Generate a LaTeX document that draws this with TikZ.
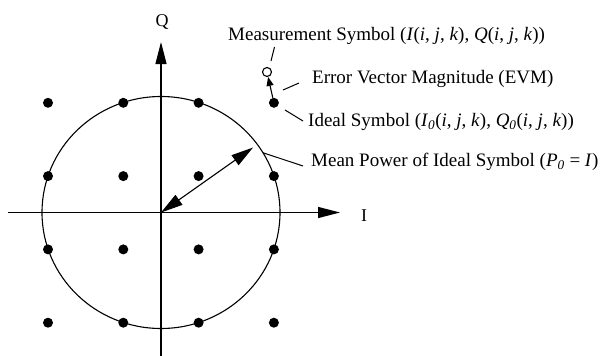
\documentclass[tikz,border=0pt]{standalone}
\usepackage{fontspec}
\setmainfont{Liberation Serif}
\usetikzlibrary{arrows.meta,calc}
\begin{document}
\begin{tikzpicture}[x=1pt,y=-1pt,
  dot/.style={circle,fill=black,inner sep=0pt,minimum size=10pt},
  axis/.style={line width=1.2pt,-{Triangle[length=22pt,width=11pt]}},
  lbl/.style={anchor=west,inner sep=0pt,font=\fontsize{19}{22}\selectfont},
  axlbl/.style={inner sep=0pt,font=\fontsize{18}{22}\selectfont},
  leader/.style={line width=1pt}]
\useasboundingbox (0,0) rectangle (606,356);
% axes
\coordinate (O) at (161,212.5);
\coordinate (Ibeg) at (8,212.5);
\coordinate (Iend) at (340,212.5);
\coordinate (Qbeg) at (161,356);
\coordinate (Qend) at (161,42);
\draw[axis] (Ibeg) -- (Iend);
\draw[axis] (Qbeg) -- (Qend);
\node[axlbl] (Ilab) at (364,216) {I};
\node[axlbl] (Qlab) at (162,22) {Q};
% circle
\draw[line width=1.1pt] (O) ellipse [x radius=119, y radius=116];
% constellation
\foreach \i/\x in {1/48,2/123.3,3/198.6,4/273.9}{
  \foreach \j/\y in {1/102.8,2/176.1,3/249.4,4/322.7}{
    \node[dot] (d\i\j) at (\x,\y) {};
  }
}
% mean power double arrow
\coordinate (R) at ($(O)+(35.9:113.6 and -110.8)$);
\draw[line width=1.1pt,{Triangle[length=22pt,width=12pt]}-{Triangle[length=22pt,width=12pt]}] (O) -- (R);
% measurement symbol
\node[circle,draw,line width=1.1pt,inner sep=0pt,minimum size=9pt] (meas) at (267,72) {};
\draw[line width=1.1pt,-{Triangle[length=9pt,width=7pt]}] (d41) -- (meas);
% labels
\node[lbl] (tmeas) at (228,36) {Measurement Symbol (\textit{I}(\textit{i}, \textit{j}, \textit{k}), \textit{Q}(\textit{i}, \textit{j}, \textit{k}))};
\node[lbl] (tevm) at (312,79) {Error Vector Magnitude (EVM)};
\node[lbl] (tideal) at (308,122) {Ideal Symbol (\textit{I}\textsubscript{\textit{0}}(\textit{i}, \textit{j}, \textit{k}), \textit{Q}\textsubscript{\textit{0}}(\textit{i}, \textit{j}, \textit{k}))};
\node[lbl] (tmean) at (311,162) {Mean Power of Ideal Symbol (\textit{P}\textsubscript{\textit{0}} = \textit{I})};
% leaders
\coordinate (m1) at (271,61); \coordinate (m2) at (274.5,47);
\coordinate (e1) at (283,90); \coordinate (e2) at (299,83);
\coordinate (i1) at (285,110); \coordinate (i2) at (303,121);
\coordinate (p1) at ($(O)+(31:119 and -116)$); \coordinate (p2) at (303,166);
\draw[leader] (m1) -- (m2);
\draw[leader] (e1) -- (e2);
\draw[leader] (i1) -- (i2);
\draw[leader] (p1) -- (p2);
\end{tikzpicture}
\end{document}
